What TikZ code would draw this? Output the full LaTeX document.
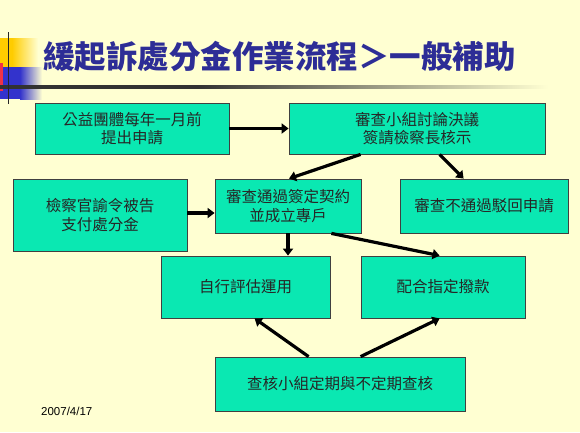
\documentclass[tikz,border=0pt]{standalone}
\usepackage{fontspec}
\setmainfont{Liberation Sans}
\newfontfamily\cjk{Noto Sans CJK TC}
\usetikzlibrary{arrows.meta}
\definecolor{bg}{RGB}{255,255,210}
\definecolor{boxfill}{RGB}{10,232,178}
\definecolor{titleblue}{RGB}{45,45,150}
\definecolor{deco-gold}{RGB}{255,204,0}
\definecolor{deco-blue}{RGB}{51,51,204}
\definecolor{deco-red}{RGB}{240,50,70}
\definecolor{linedark}{RGB}{50,50,50}
\pgfdeclarehorizontalshading{titleline}{100bp}{color(0bp)=(linedark); color(25bp)=(linedark); color(43bp)=(linedark); color(75bp)=(bg); color(100bp)=(bg)}
\begin{document}
\begin{tikzpicture}[x=1pt,y=-1pt,
  box/.style={draw=black!75, line width=0.8pt, fill=boxfill, inner sep=0pt, align=center,
    font=\cjk\fontsize{15.5}{18.5}\selectfont, text=black!85},
  arr/.style={line width=3.2pt, black, -{Triangle[length=7pt,width=10pt]}}]
\useasboundingbox (0,0) rectangle (580,432);
\fill[bg] (0,0) rectangle (580,432);
% left decoration
\fill[deco-gold] (0,38) rectangle (12,67);
\shade[left color=deco-gold, right color=bg] (12,38) rectangle (38,67);
\fill[deco-blue] (0,67) rectangle (20,99);
\shade[left color=deco-blue, right color=bg] (20,67) rectangle (42,99);
\fill[deco-red] (0,63) rectangle (3,91);
\shade[shading=titleline] (0,85.6) rectangle (548,88.4);
\draw[line width=1.5pt, black!85] (8.7,32) -- (8.7,104);
% title
\node[anchor=west, inner sep=0pt, text=titleblue, font=\cjk\bfseries\fontsize{31.5}{33}\selectfont] (title) at (43,57) {緩起訴處分金作業流程＞一般補助};
% boxes
\node[box, minimum width=194pt, minimum height=51pt] (A) at (132,128.5) {公益團體每年一月前\\提出申請};
\node[box, minimum width=256pt, minimum height=51pt] (B) at (417,128.5) {審查小組討論決議\\簽請檢察長核示};
\node[box, minimum width=174pt, minimum height=72pt] (C) at (100,215) {檢察官諭令被告\\支付處分金};
\node[box, minimum width=146pt, minimum height=54pt] (D) at (288,206) {審查通過簽定契約\\並成立專戶};
\node[box, minimum width=168pt, minimum height=54pt] (E) at (484,206) {審查不通過駁回申請};
\node[box, minimum width=169pt, minimum height=62pt] (F) at (245.5,287) {自行評估運用};
\node[box, minimum width=164pt, minimum height=62pt] (G) at (443,287) {配合指定撥款};
\node[box, minimum width=250pt, minimum height=54pt] (H) at (340,384) {查核小組定期與不定期查核};
% date
\node[anchor=west, inner sep=0pt, font=\fontsize{11.5}{12}\selectfont] (date) at (41,411) {2007/4/17};
% arrows
\draw[arr] (A.east) -- (B.west);
\draw[arr] ([xshift=72pt]B.south west) -- ([xshift=1pt]D.north);
\draw[arr] ([xshift=151pt]B.south west) -- ([xshift=64pt]E.north west);
\coordinate (c1) at ([yshift=2pt]C.east);
\draw[arr] (c1) -- (c1 -| D.west);
\draw[arr] (D.south) -- (D.south |- F.north);
\draw[arr] ([xshift=-30pt]D.south east) -- ([xshift=79pt]G.north west);
\draw[arr] ([xshift=94pt]H.north west) -- ([xshift=94pt]F.south west);
\draw[arr] ([xshift=146pt]H.north west) -- ([xshift=79pt]G.south west);
\end{tikzpicture}
\end{document}
